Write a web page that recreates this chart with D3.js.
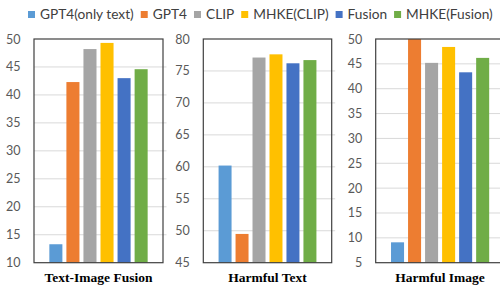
<!DOCTYPE html>
<html>
<head>
<meta charset="utf-8">
<script src="https://cdn.jsdelivr.net/npm/d3@7"></script>
<style>
  html, body { margin: 0; padding: 0; background: #ffffff; }
  svg { display: block; }
</style>
</head>
<body>
<svg id="chart" width="500" height="285"></svg>
<script>
// ---- data ----
const seriesNames = ["GPT4(only text)", "GPT4", "CLIP", "MHKE(CLIP)", "Fusion", "MHKE(Fusion)"];
const panelTitles = ["Text-Image Fusion", "Harmful Text", "Harmful Image"];
const textImageFusionValues = [13.3, 42.3, 48.2, 49.3, 43.0, 44.6];
const harmfulTextValues = [60.2, 49.5, 77.1, 77.6, 76.2, 76.7];
const harmfulImageValues = [9.1, 50.0, 45.2, 48.4, 43.3, 46.2];
const yTickValues = [
  [10, 15, 20, 25, 30, 35, 40, 45, 50],
  [45, 50, 55, 60, 65, 70, 75, 80],
  [5, 10, 15, 20, 25, 30, 35, 40, 45, 50]
];

// ---- styles / layout ----
const colors = ["#5B9BD5", "#ED7D31", "#A5A5A5", "#FFC000", "#4472C4", "#70AD47"];
const panelValues = [textImageFusionValues, harmfulTextValues, harmfulImageValues];
const boxes = [[34, 163], [203.3, 331.7], [375.7, 504.5]];
const titleCenters = [98.5, 267.5, 440];
const yTop = 39, yBottom = 262.7;
const uiFont = "Lato, 'Open Sans', sans-serif";
const svg = d3.select("#chart");

const color = d3.scaleOrdinal().domain(seriesNames).range(colors);

panelTitles.forEach((title, i) => {
  const [x0, x1] = boxes[i];
  const ticks = yTickValues[i];
  const y = d3.scaleLinear().domain([ticks[0], ticks[ticks.length - 1]]).range([yBottom, yTop]);
  const x = d3.scaleBand().domain(seriesNames).range([x0, x1]).paddingInner(0.235).paddingOuter(0.9);
  const g = svg.append("g");

  g.selectAll("line.grid").data(ticks.slice(1, -1)).join("line")
    .attr("x1", x0).attr("x2", x1 + 3.5)
    .attr("y1", d => y(d)).attr("y2", d => y(d))
    .attr("stroke", "#D9D9D9").attr("stroke-width", 1);

  g.selectAll("rect.bar").data(panelValues[i].map((v, k) => ({ s: seriesNames[k], v }))).join("rect")
    .attr("x", d => x(d.s)).attr("width", x.bandwidth())
    .attr("y", d => y(d.v)).attr("height", d => yBottom - y(d.v))
    .attr("fill", d => color(d.s));

  g.append("rect").attr("x", x0).attr("y", yTop).attr("width", x1 - x0).attr("height", yBottom - yTop)
    .attr("fill", "none").attr("stroke", "#404040").attr("stroke-width", 1.2);

  const axis = d3.axisLeft(y).tickValues(ticks).tickSize(0).tickPadding(13.5);
  const ag = g.append("g").attr("transform", `translate(${x0},0)`).call(axis);
  ag.select(".domain").remove();
  ag.selectAll("text").attr("font-family", uiFont).attr("font-size", 12.5).attr("fill", "#595959");

  g.append("text")
    .attr("x", titleCenters[i]).attr("y", 282)
    .attr("text-anchor", "middle")
    .attr("font-family", "'Liberation Serif', 'Times New Roman', serif")
    .attr("font-weight", "bold").attr("font-size", 13.5).attr("fill", "#000")
    .text(title);
});

// legend (fit between x=28 and x=493)
const legend = svg.append("g");
const legendStart = 28, legendEnd = 493, sq = 7, sqGap = 5, itemGap = 7;
function drawLegend(fs) {
  legend.selectAll("*").remove();
  let lx = legendStart;
  seriesNames.forEach(name => {
    const item = legend.append("g").attr("transform", `translate(${lx},0)`);
    item.append("rect").attr("x", 0).attr("y", 11).attr("width", sq).attr("height", sq).attr("fill", color(name));
    const t = item.append("text").attr("x", sq + sqGap).attr("y", 19)
      .attr("font-family", uiFont).attr("font-size", fs).attr("fill", "#404040")
      .text(name);
    lx += sq + sqGap + t.node().getComputedTextLength() + itemGap;
  });
  return lx - itemGap;
}
const fixed = seriesNames.length * (sq + sqGap) + (seriesNames.length - 1) * itemGap;
const w0 = drawLegend(14) - legendStart - fixed;
const fitSize = Math.min(15, 14 * (legendEnd - legendStart - fixed) / w0);
drawLegend(fitSize);
</script>
</body>
</html>
